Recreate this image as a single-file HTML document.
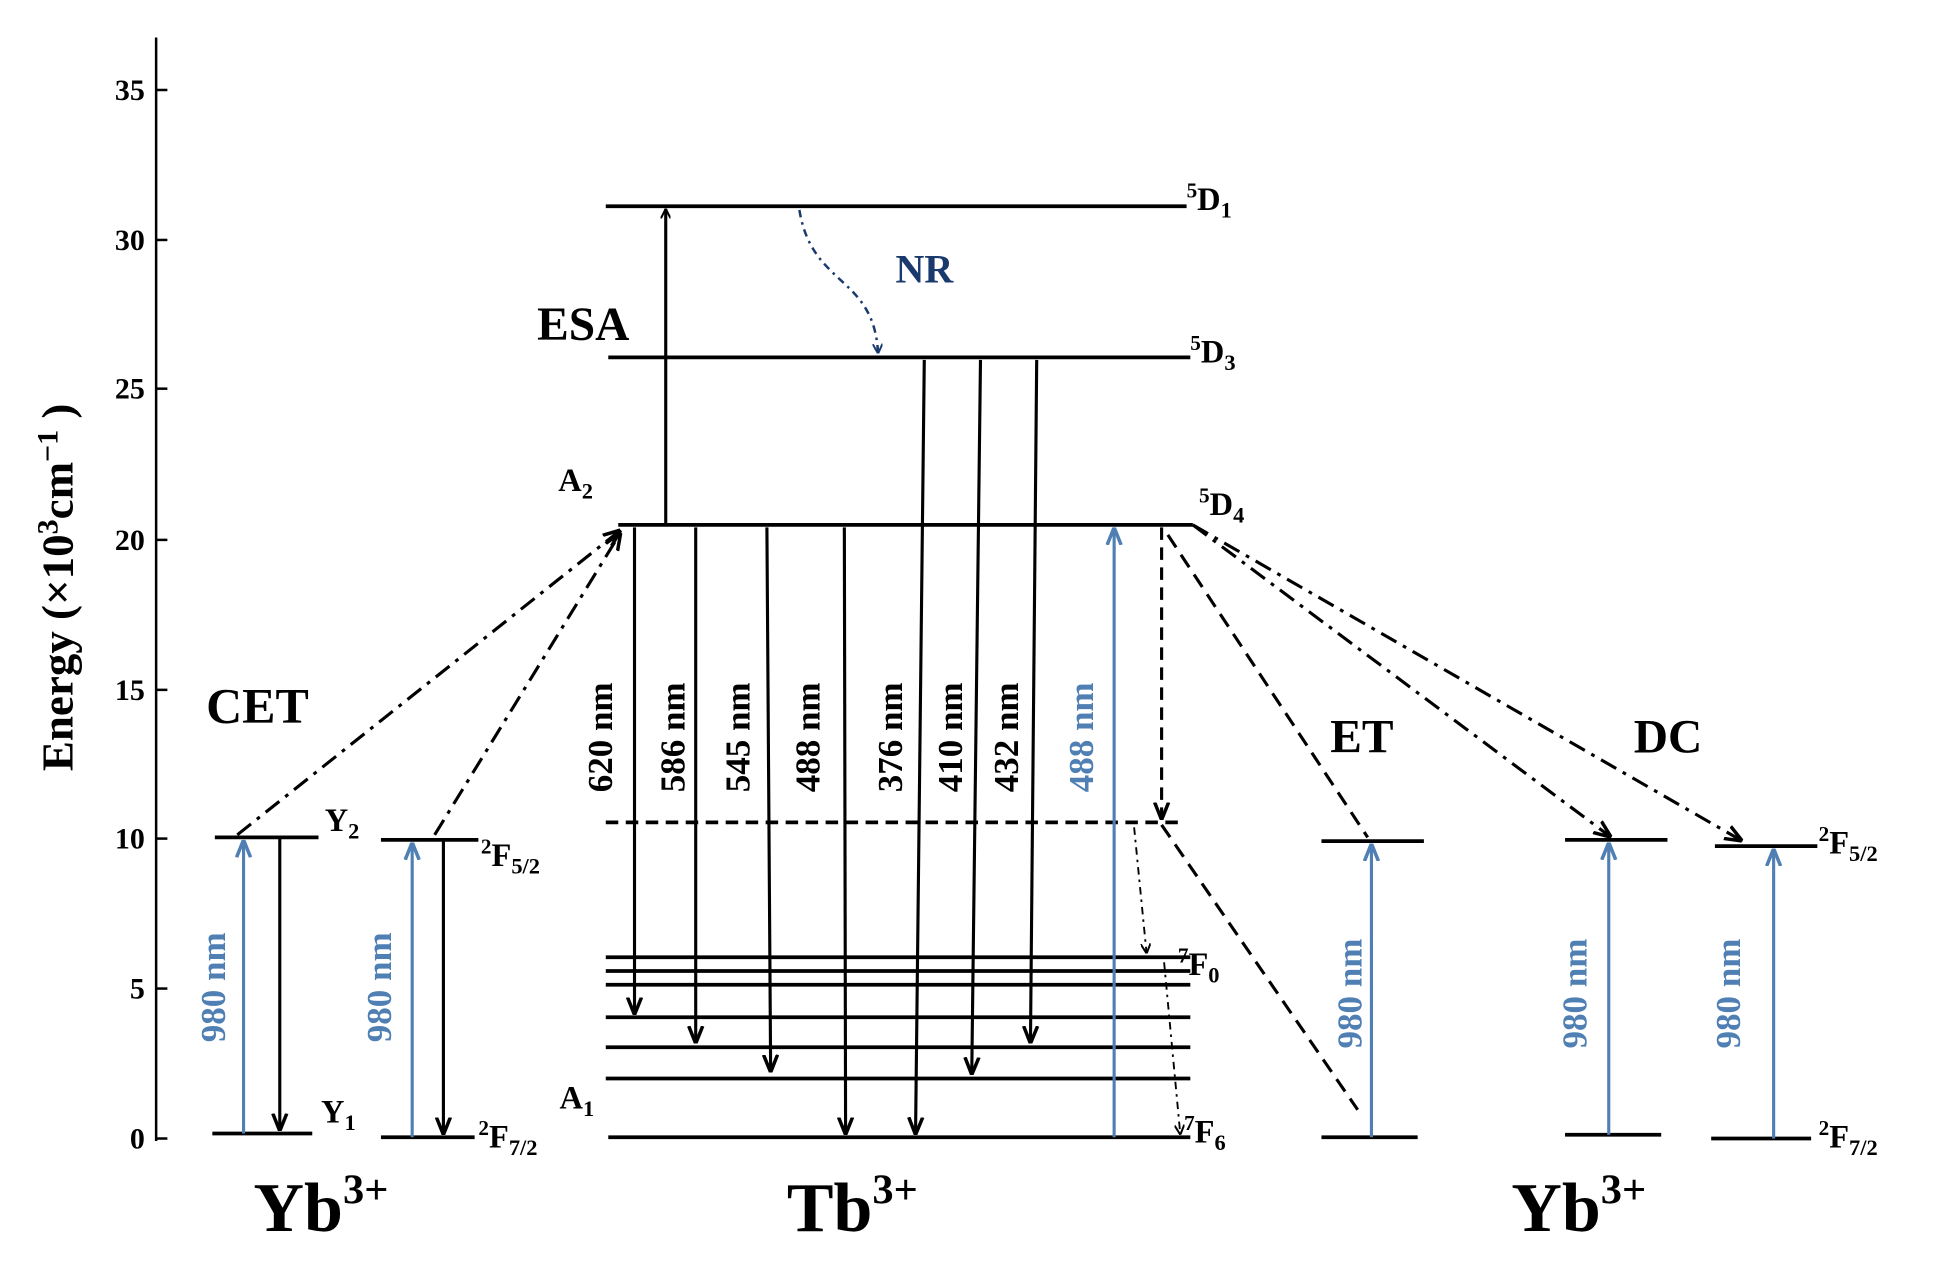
<!DOCTYPE html>
<html><head><meta charset="utf-8"><style>
html,body{margin:0;padding:0;background:#fff;}
svg{display:block;}
text{font-family:"Liberation Serif",serif;font-weight:bold;}
</style></head><body>
<svg width="1936" height="1271" viewBox="0 0 1550 1017" preserveAspectRatio="none" xmlns="http://www.w3.org/2000/svg">
<defs>
<marker id="a" viewBox="0 0 10 10" refX="10" refY="5" markerWidth="8" markerHeight="8" orient="auto-start-reverse" markerUnits="userSpaceOnUse"><path d="M0,0 L10,5 L0,10" fill="none" stroke="#000" stroke-width="2"/></marker>
<marker id="ab" viewBox="0 0 10 10" refX="10" refY="5" markerWidth="14" markerHeight="14" orient="auto" markerUnits="userSpaceOnUse"><path d="M0,1 L10,5 L0,9" fill="none" stroke="#000" stroke-width="2"/></marker>
<marker id="b" viewBox="0 0 10 10" refX="10" refY="5" markerWidth="14" markerHeight="14" orient="auto" markerUnits="userSpaceOnUse"><path d="M0,1 L10,5 L0,9" fill="none" stroke="#4f7fb3" stroke-width="2"/></marker>
<marker id="n" viewBox="0 0 10 10" refX="10" refY="5" markerWidth="8" markerHeight="8" orient="auto" markerUnits="userSpaceOnUse"><path d="M0,0 L10,5 L0,10" fill="none" stroke="#1a3a6e" stroke-width="2"/></marker>
</defs>
<g stroke="#000" stroke-width="2">
<line x1="125" y1="30" x2="125" y2="913"/>
<line x1="125" y1="72" x2="134" y2="72"/><line x1="125" y1="192" x2="134" y2="192"/>
<line x1="125" y1="311" x2="134" y2="311"/><line x1="125" y1="432" x2="134" y2="432"/>
<line x1="125" y1="552" x2="134" y2="552"/><line x1="125" y1="671" x2="134" y2="671"/>
<line x1="125" y1="791" x2="134" y2="791"/><line x1="125" y1="911" x2="134" y2="911"/>
</g>
<g font-size="24" text-anchor="end">
<text x="116" y="80">35</text><text x="116" y="200">30</text><text x="116" y="319">25</text><text x="116" y="440">20</text>
<text x="116" y="560">15</text><text x="116" y="679">10</text><text x="116" y="799">5</text><text x="116" y="919">0</text>
</g>
<text transform="translate(58,470) rotate(-90)" text-anchor="middle" font-size="36">Energy (×10<tspan font-size="24" dy="-12">3</tspan><tspan dy="12">cm</tspan><tspan font-size="24" dy="-12">−1</tspan><tspan dy="12"> )</tspan></text>

<g stroke="#000" stroke-width="3">
<line x1="485" y1="165" x2="950" y2="165"/>
<line x1="487" y1="286" x2="953" y2="286"/>
<line x1="495" y1="420" x2="955" y2="420"/>
<line x1="485" y1="766" x2="953" y2="766"/><line x1="485" y1="777" x2="953" y2="777"/><line x1="485" y1="788" x2="953" y2="788"/>
<line x1="485" y1="814" x2="953" y2="814"/><line x1="485" y1="838" x2="953" y2="838"/><line x1="485" y1="863" x2="953" y2="863"/>
<line x1="487" y1="910" x2="953" y2="910"/>
</g>
<line x1="485" y1="658" x2="945" y2="658" stroke="#000" stroke-width="3" stroke-dasharray="10,6"/>
<g font-size="26">
<text x="950" y="168"><tspan font-size="17" dy="-10">5</tspan><tspan dy="10">D</tspan><tspan font-size="18" dy="6">1</tspan></text>
<text x="953" y="290"><tspan font-size="17" dy="-10">5</tspan><tspan dy="10">D</tspan><tspan font-size="18" dy="6">3</tspan></text>
<text x="960" y="412"><tspan font-size="17" dy="-10">5</tspan><tspan dy="10">D</tspan><tspan font-size="18" dy="6">4</tspan></text>
<text x="943" y="780"><tspan font-size="17" dy="-10">7</tspan><tspan dy="10">F</tspan><tspan font-size="18" dy="6">0</tspan></text>
<text x="948" y="914"><tspan font-size="17" dy="-10">7</tspan><tspan dy="10">F</tspan><tspan font-size="18" dy="6">6</tspan></text>
<text x="448" y="887">A<tspan font-size="18" dy="6">1</tspan></text>
<text x="447" y="393">A<tspan font-size="18" dy="6">2</tspan></text>
</g>
<text x="430" y="272" font-size="38">ESA</text>
<line x1="533" y1="420" x2="533" y2="167" stroke="#000" stroke-width="2.5" marker-end="url(#a)"/>
<path d="M640,168 C650,230 700,220 703,283" fill="none" stroke="#1a3a6e" stroke-width="2" stroke-dasharray="6,4,2,4" marker-end="url(#n)"/>
<text x="717" y="226" font-size="32" fill="#1a3a6e">NR</text>

<g stroke="#000" stroke-width="2.5" fill="none">
<line x1="740" y1="288" x2="733" y2="908" marker-end="url(#ab)"/>
<line x1="785" y1="288" x2="778" y2="860" marker-end="url(#ab)"/>
<line x1="830" y1="288" x2="825" y2="835" marker-end="url(#ab)"/>
<line x1="508" y1="422" x2="508" y2="812" marker-end="url(#ab)"/>
<line x1="557" y1="422" x2="557" y2="835" marker-end="url(#ab)"/>
<line x1="614" y1="422" x2="617" y2="858" marker-end="url(#ab)"/>
<line x1="676" y1="422" x2="677" y2="908" marker-end="url(#ab)"/>
</g>
<line x1="892" y1="910" x2="892" y2="422" stroke="#4f7fb3" stroke-width="2.5" marker-end="url(#b)"/>
<line x1="930" y1="422" x2="930" y2="656" stroke="#000" stroke-width="2.5" stroke-dasharray="10,6" marker-end="url(#ab)"/>
<line x1="908" y1="662" x2="918" y2="763" stroke="#000" stroke-width="1.5" stroke-dasharray="6,4,2,4" marker-end="url(#a)"/>
<line x1="932" y1="770" x2="945" y2="908" stroke="#000" stroke-width="1.5" stroke-dasharray="6,4,2,4" marker-end="url(#a)"/>
<g font-size="28" text-anchor="middle">
<text transform="translate(490,590) rotate(-90)">620 nm</text>
<text transform="translate(548,590) rotate(-90)">586 nm</text>
<text transform="translate(600,590) rotate(-90)">545 nm</text>
<text transform="translate(656,590) rotate(-90)">488 nm</text>
<text transform="translate(722,590) rotate(-90)">376 nm</text>
<text transform="translate(770,590) rotate(-90)">410 nm</text>
<text transform="translate(815,590) rotate(-90)">432 nm</text>
<text transform="translate(875,590) rotate(-90)" fill="#4f7fb3">488 nm</text>
</g>

<g stroke="#000" stroke-width="3">
<line x1="172" y1="670" x2="255" y2="670"/><line x1="170" y1="907" x2="250" y2="907"/>
<line x1="305" y1="672" x2="383" y2="672"/><line x1="305" y1="910" x2="380" y2="910"/>
</g>
<line x1="195" y1="907" x2="195" y2="672" stroke="#4f7fb3" stroke-width="2.5" marker-end="url(#b)"/>
<line x1="330" y1="910" x2="330" y2="674" stroke="#4f7fb3" stroke-width="2.5" marker-end="url(#b)"/>
<line x1="224" y1="670" x2="224" y2="905" stroke="#000" stroke-width="2.5" marker-end="url(#ab)"/>
<line x1="355" y1="672" x2="355" y2="908" stroke="#000" stroke-width="2.5" marker-end="url(#ab)"/>
<g font-size="28" text-anchor="middle" fill="#4f7fb3">
<text transform="translate(180,790) rotate(-90)">980 nm</text>
<text transform="translate(313,790) rotate(-90)">980 nm</text>
<text transform="translate(1090,795) rotate(-90)">980 nm</text>
<text transform="translate(1270,795) rotate(-90)">980 nm</text>
<text transform="translate(1393,795) rotate(-90)">980 nm</text>
</g>
<g font-size="26">
<text x="260" y="665">Y<tspan font-size="18" dy="6">2</tspan></text>
<text x="257" y="898">Y<tspan font-size="18" dy="6">1</tspan></text>
<text x="385" y="693"><tspan font-size="17" dy="-10">2</tspan><tspan dy="10">F</tspan><tspan font-size="18" dy="6">5/2</tspan></text>
<text x="383" y="918"><tspan font-size="17" dy="-10">2</tspan><tspan dy="10">F</tspan><tspan font-size="18" dy="6">7/2</tspan></text>
<text x="1456" y="683"><tspan font-size="17" dy="-10">2</tspan><tspan dy="10">F</tspan><tspan font-size="18" dy="6">5/2</tspan></text>
<text x="1456" y="918"><tspan font-size="17" dy="-10">2</tspan><tspan dy="10">F</tspan><tspan font-size="18" dy="6">7/2</tspan></text>
</g>
<g stroke="#000" stroke-width="2.5" stroke-dasharray="14,6,3,6" fill="none">
<line x1="190" y1="668" x2="497" y2="424" marker-end="url(#ab)"/>
<line x1="348" y1="668" x2="497" y2="426" marker-end="url(#ab)"/>
<line x1="955" y1="420" x2="1290" y2="670" marker-end="url(#ab)"/>
<line x1="955" y1="420" x2="1395" y2="673" marker-end="url(#ab)"/>
</g>
<g stroke="#000" stroke-width="2.5" stroke-dasharray="12,7" fill="none">
<line x1="935" y1="428" x2="1095" y2="670"/>
<line x1="930" y1="660" x2="1087" y2="888"/>
</g>
<text x="165" y="578" font-size="40">CET</text>
<text x="1065" y="602" font-size="38">ET</text>
<text x="1308" y="602" font-size="38">DC</text>

<g stroke="#000" stroke-width="3">
<line x1="1058" y1="673" x2="1140" y2="673"/><line x1="1058" y1="910" x2="1135" y2="910"/>
<line x1="1253" y1="672" x2="1335" y2="672"/><line x1="1253" y1="908" x2="1330" y2="908"/>
<line x1="1373" y1="677" x2="1455" y2="677"/><line x1="1370" y1="911" x2="1450" y2="911"/>
</g>
<line x1="1098" y1="910" x2="1098" y2="675" stroke="#4f7fb3" stroke-width="2.5" marker-end="url(#b)"/>
<line x1="1288" y1="908" x2="1288" y2="674" stroke="#4f7fb3" stroke-width="2.5" marker-end="url(#b)"/>
<line x1="1420" y1="911" x2="1420" y2="679" stroke="#4f7fb3" stroke-width="2.5" marker-end="url(#b)"/>

<g font-size="56">
<text x="203" y="985">Yb<tspan font-size="34" dy="-22">3+</tspan></text>
<text x="630" y="985">Tb<tspan font-size="34" dy="-22">3+</tspan></text>
<text x="1210" y="985">Yb<tspan font-size="34" dy="-22">3+</tspan></text>
</g>
</svg>
</body></html>
